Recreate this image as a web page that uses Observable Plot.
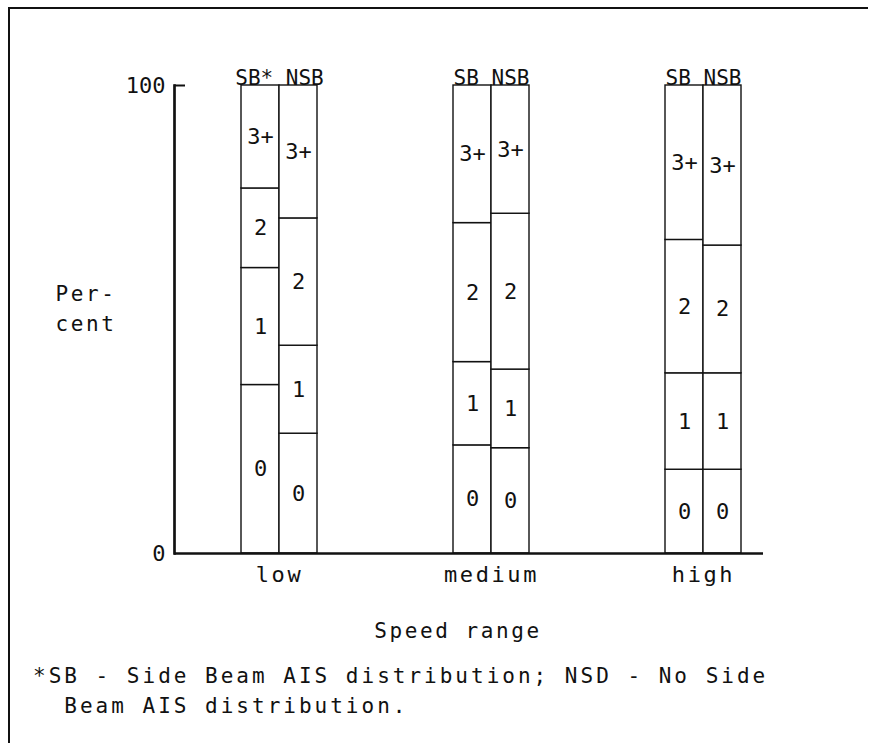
<!DOCTYPE html>
<html>
<head>
<meta charset="utf-8">
<script src="https://cdn.jsdelivr.net/npm/d3@7"></script>
<script src="https://cdn.jsdelivr.net/npm/@observablehq/plot@0.6"></script>
<style>
  html, body { margin: 0; padding: 0; background: #fff; }
  #page { position: relative; width: 870px; height: 743px; overflow: hidden; font-family: "DejaVu Sans Mono", monospace; color: #111; }
  #border { position: absolute; left: 8px; top: 7px; width: 858px; height: 760px; border-left: 2px solid #111; border-top: 2px solid #111; }
  #chart { position: absolute; left: 0; top: 0; }
  #note { position: absolute; left: 33px; top: 661px; font-size: 21px; letter-spacing: 3px; line-height: 30px; white-space: pre; }
</style>
</head>
<body>
<div id="page">
  <div id="border"></div>
  <div id="chart"></div>
  <div id="note"></div>
</div>
<script>
// ---- data ----
const groups = ["low", "medium", "high"];
const barTypes = ["SB", "NSB"];
const categories = ["0", "1", "2", "3+"];
const headerLabels = ["SB* NSB", "SB NSB", "SB NSB"];

// percent of each AIS category (0, 1, 2, 3+)
const lowSB     = [36.0, 25.0, 17.0, 22.0];
const lowNSB    = [25.6, 18.8, 27.2, 28.4];
const mediumSB  = [23.1, 17.8, 29.7, 29.4];
const mediumNSB = [22.5, 16.8, 33.3, 27.4];
const highSB    = [17.9, 20.6, 28.5, 33.0];
const highNSB   = [17.9, 20.6, 27.3, 34.2];

const yTicks = [0, 100];
const yLabel = "Per-\ncent";
const xLabel = "Speed range";
const footnote = ["*SB - Side Beam AIS distribution; NSD - No Side", "  Beam AIS distribution."];

// ---- table for Plot ----
const seriesValues = {
  low: {SB: lowSB, NSB: lowNSB},
  medium: {SB: mediumSB, NSB: mediumNSB},
  high: {SB: highSB, NSB: highNSB}
};
const rows = [];
for (const g of groups) for (const b of barTypes)
  seriesValues[g][b].forEach((v, i) => rows.push({group: g, bar: b, cat: categories[i], value: v}));

const barOffset = {SB: -19, NSB: 19};
const ink = "#111";

const marks = [];
for (const b of barTypes) {
  const sub = rows.filter(d => d.bar === b);
  marks.push(Plot.barY(sub, {x: "group", y: "value", fill: "white", stroke: ink, strokeWidth: 1.4, dx: barOffset[b]}));
  marks.push(Plot.text(sub, Plot.stackY({x: "group", y: "value", text: "cat", dx: barOffset[b], fontSize: 22, fill: ink})));
}
marks.push(Plot.text(headerLabels, {x: groups, text: d => d, frameAnchor: "top", dy: -15, fontSize: 21, fill: ink}));
marks.push(Plot.ruleY([0], {stroke: ink, strokeWidth: 2.7}));
marks.push(Plot.frame({anchor: "left", stroke: ink, strokeWidth: 2.7}));
marks.push(Plot.axisY({ticks: yTicks, tickSize: 0, tickPadding: 9, fontSize: 22, label: null, fill: ink}));
marks.push(Plot.axisY({ticks: [100], tickSize: 11, dx: 11, tickFormat: () => "", label: null, stroke: ink, strokeWidth: 2}));
marks.push(Plot.axisX({tickSize: 0, tickPadding: 13, fontSize: 22, label: null, fill: ink}));
marks.push(Plot.text([yLabel], {text: d => d, frameAnchor: "left", dx: -119, dy: -13, textAnchor: "start", lineHeight: 1.43, fontSize: 21, fill: ink}));
marks.push(Plot.text([xLabel], {text: d => d, frameAnchor: "bottom", dy: 84.5, dx: -11, fontSize: 21, fill: ink}));

const chart = Plot.plot({
  width: 870,
  height: 655,
  marginTop: 85,
  marginBottom: 102,
  marginLeft: 174,
  marginRight: 107,
  style: {fontFamily: "'DejaVu Sans Mono', monospace", background: "transparent", color: ink, overflow: "visible"},
  x: {type: "band", domain: groups, paddingInner: 0.8208, paddingOuter: 0.2995, align: 0.677, axis: null},
  y: {domain: [0, 100], axis: null},
  marks
});

// wider typewriter spacing for axis words
const wide = new Set(["low", "medium", "high", xLabel]);
chart.querySelectorAll("text").forEach(t => {
  const s = t.textContent;
  if (wide.has(s) || s.startsWith("Per")) t.style.letterSpacing = "2.6px";
});

document.getElementById("chart").appendChild(chart);
document.getElementById("note").textContent = footnote.join("\n");
</script>
</body>
</html>
